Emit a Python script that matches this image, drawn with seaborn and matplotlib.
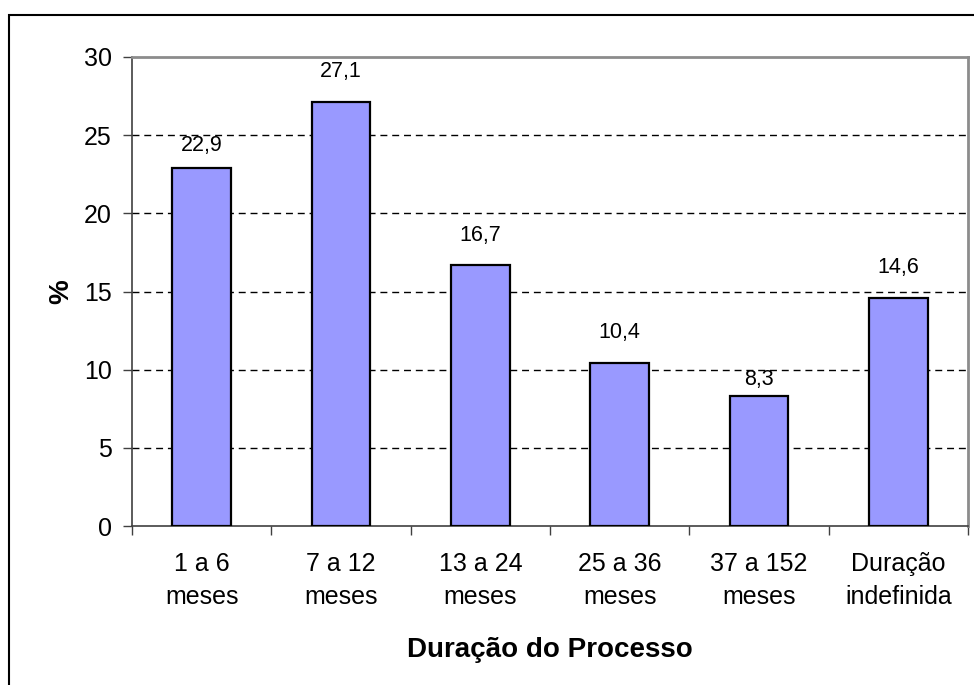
import numpy as np
import pandas as pd
import matplotlib.pyplot as plt
import matplotlib.patches as mpatches
import seaborn as sns

# --- data ---
categories = ["1 a 6\nmeses", "7 a 12\nmeses", "13 a 24\nmeses",
              "25 a 36\nmeses", "37 a 152\nmeses", "Duração\nindefinida"]
percent = [22.9, 27.1, 16.7, 10.4, 8.3, 14.6]
value_labels = ["22,9", "27,1", "16,7", "10,4", "8,3", "14,6"]
y_ticks = [0, 5, 10, 15, 20, 25, 30]

# style: gap (points) between bar top and its value label
label_gap = [8.5, 14.5, 13.5, 14.5, 4.5, 14.5]

df = pd.DataFrame({"Duração": categories, "Pct": percent})

sns.set_theme(style="white")
plt.rcParams["font.family"] = ["Liberation Sans", "DejaVu Sans"]
plt.rcParams.update({"text.color": "black", "axes.labelcolor": "black",
                     "xtick.color": "black", "ytick.color": "black"})

fig = plt.figure(figsize=(9.74, 6.85), dpi=100)
ax = fig.add_axes([132 / 974, 1 - 526 / 685, (968 - 132) / 974, (526 - 57) / 685])

sns.barplot(data=df, x="Duração", y="Pct", color="#9999FF", saturation=1,
            width=0.42, edgecolor="black", linewidth=1.6, ax=ax, zorder=3)

# value labels above bars
for i, (v, lab) in enumerate(zip(percent, value_labels)):
    ax.annotate(lab, (i, v), xytext=(0, label_gap[i]), textcoords="offset points",
                ha="center", va="bottom", fontsize=15.5, color="black")

ax.set_ylim(0, 30)
ax.set_xlim(-0.5, len(categories) - 0.5)
ax.set_yticks(y_ticks)
ax.set_yticklabels([str(t) for t in y_ticks], fontsize=18)
ax.tick_params(axis="y", direction="out", length=6.5, width=1, color="#404040",
               left=True, pad=8)

# category labels centred, tick marks at category boundaries
ax.set_xticks(range(len(categories)))
ax.set_xticklabels(categories, fontsize=18, linespacing=1.45)
ax.tick_params(axis="x", which="major", length=0, pad=19)
ax.set_xticks(np.arange(-0.5, len(categories), 1), minor=True)
ax.tick_params(axis="x", which="minor", direction="out", length=6.5, width=1,
               color="#404040", bottom=True)

# dashed gridlines
for t in y_ticks[1:-1]:
    ax.axhline(t, color="black", linestyle=(0, (5, 3.5)), linewidth=1, zorder=1)

for s in ["left", "bottom"]:
    ax.spines[s].set_color("#404040")
    ax.spines[s].set_linewidth(1.2)
for s in ["top", "right"]:
    ax.spines[s].set_color("#8c8c8c")
    ax.spines[s].set_linewidth(2)

ax.set_xlabel("Duração do Processo", fontsize=20, fontweight="bold", labelpad=20)
ax.set_ylabel("%", fontsize=20, fontweight="bold", labelpad=7)

# outer chart frame
frame = mpatches.Rectangle((9 / 974, -0.1), 1.2, 1 - 15 / 685 + 0.1,
                           transform=fig.transFigure, fill=False,
                           edgecolor="black", linewidth=1.5, clip_on=False)
fig.patches.append(frame)

fig.savefig("out.png", dpi=100)
